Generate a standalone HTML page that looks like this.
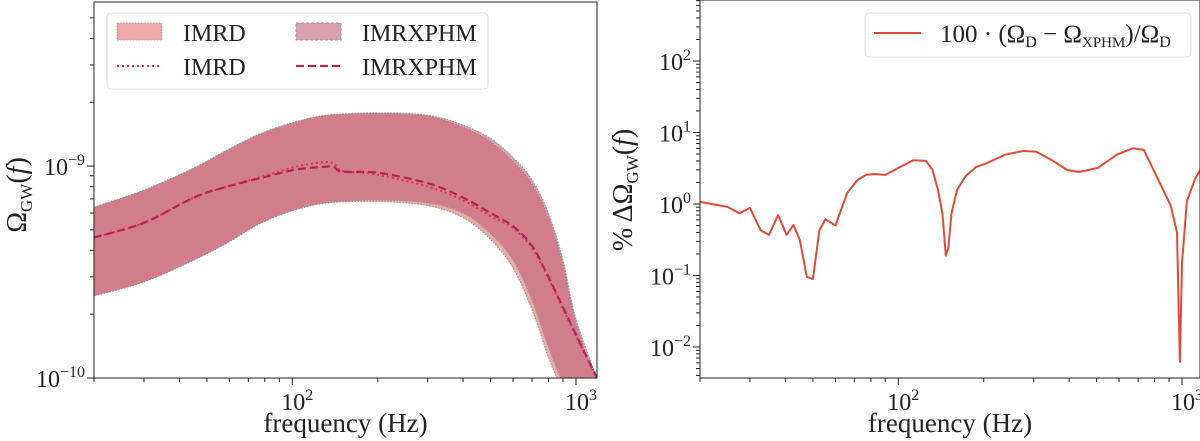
<!DOCTYPE html>
<html><head><meta charset="utf-8"><style>
html,body{margin:0;padding:0;background:#fff;}
svg{display:block;font-family:"Liberation Serif",serif;}
</style></head><body>
<svg id="c" width="1200" height="441" viewBox="0 0 1200 441"></svg>
<script>
// ---- left panel data ----
const fBand = [20,30,45,59,78,102,133,200,300,400,500,600,700,800,900,1000,1186];
const xphmUpper = [6.4e-10,7.7e-10,9.8e-10,1.19e-9,1.43e-9,1.61e-9,1.74e-9,1.78e-9,1.74e-9,1.56e-9,1.35e-9,1.10e-9,8.6e-10,6.0e-10,3.6e-10,1.9e-10,1.0e-10];
const xphmLower = [2.44e-10,2.84e-10,3.6e-10,4.34e-10,5.4e-10,6.2e-10,6.7e-10,6.9e-10,6.7e-10,6.0e-10,4.8e-10,3.6e-10,2.33e-10,1.4e-10,9.5e-11,7e-11,5e-11];
const imrdUpper = [6.4e-10,7.7e-10,9.8e-10,1.19e-9,1.43e-9,1.61e-9,1.74e-9,1.77e-9,1.72e-9,1.52e-9,1.30e-9,1.05e-9,8.2e-10,5.7e-10,3.4e-10,1.8e-10,9.5e-11];
const imrdLower = [2.44e-10,2.84e-10,3.6e-10,4.34e-10,5.4e-10,6.2e-10,6.7e-10,6.8e-10,6.5e-10,5.7e-10,4.5e-10,3.3e-10,2.1e-10,1.25e-10,8.5e-11,6e-11,4.5e-11];
const fMed = [20,30,45,59,78,102,127,140,150,200,300,400,500,600,700,800,1000,1186];
const xphmMedian = [4.6e-10,5.4e-10,7.1e-10,8.0e-10,8.8e-10,9.6e-10,9.9e-10,9.9e-10,9.4e-10,9.3e-10,8.3e-10,7.1e-10,6.0e-10,5.2e-10,4.2e-10,3.0e-10,1.6e-10,1.0e-10];
const imrdMedian = [4.6e-10,5.4e-10,7.1e-10,8.0e-10,8.9e-10,9.9e-10,1.04e-9,1.03e-9,9.5e-10,9.1e-10,8.0e-10,6.9e-10,5.8e-10,5.1e-10,4.1e-10,2.95e-10,1.58e-10,1.0e-10];
// ---- right panel data ----
const fDiff = [20,25,27.5,30,32.7,35,37.7,40.4,42.7,45,47.6,50,52.7,55.4,60,66,71.7,77,82,90,100,113,125,132,138,143,147,150,154,161,172,188,204,238,275,306,348,393,433,505,590,670,733,835,912,960,983,1000,1040,1110,1160];
const pctDiff = [1.07,0.91,0.74,0.88,0.43,0.37,0.70,0.37,0.51,0.31,0.095,0.089,0.43,0.61,0.50,1.42,2.16,2.55,2.63,2.55,3.2,4.1,4.0,3.0,1.57,0.74,0.19,0.24,0.74,1.57,2.4,3.3,3.7,4.9,5.5,5.4,4.1,3.0,2.8,3.2,4.9,6.0,5.7,1.97,0.95,0.40,0.0062,0.15,1.1,2.2,3.0];
const leftYTicks = ["10^-10","10^-9"];
const rightYTicks = ["10^-2","10^-1","10^0","10^1","10^2"];
const xTicks = ["10^2","10^3"];

const NS="http://www.w3.org/2000/svg";
const svg=document.getElementById('c');
function mk(tag,attrs,parent){const e=document.createElementNS(NS,tag);for(const k in attrs)e.setAttribute(k,attrs[k]);(parent||svg).appendChild(e);return e;}
function lg(v){return Math.log10(v);}
const L={x0:94,x1:597,y0:2,y1:378,fx0:20,fx1:1186,ly0:-10,ly1:-8.226};
const R={x0:700,x1:1200,y0:0,y1:378,fx0:20,fx1:1157,ly0:-2.434,ly1:2.853};
function sx(A,f){return A.x0+(lg(f)-lg(A.fx0))/(lg(A.fx1)-lg(A.fx0))*(A.x1-A.x0);}
function sy(A,v){return A.y1-(lg(v)-A.ly0)/(A.ly1-A.ly0)*(A.y1-A.y0);}
function xy(A,fs,vs){return fs.map((f,i)=>[sx(A,f),sy(A,vs[i])]);}
function pts(A,fs,vs){return xy(A,fs,vs).map(p=>p[0].toFixed(1)+','+p[1].toFixed(1));}
function smooth(p,start){
  let d=(start?'M':'L')+p[0][0].toFixed(1)+','+p[0][1].toFixed(1);
  for(let i=0;i<p.length-1;i++){const p0=p[Math.max(0,i-1)],p1=p[i],p2=p[i+1],p3=p[Math.min(p.length-1,i+2)];
    const c1=[p1[0]+(p2[0]-p0[0])/6,p1[1]+(p2[1]-p0[1])/6],c2=[p2[0]-(p3[0]-p1[0])/6,p2[1]-(p3[1]-p1[1])/6];
    d+='C'+c1[0].toFixed(1)+','+c1[1].toFixed(1)+' '+c2[0].toFixed(1)+','+c2[1].toFixed(1)+' '+p2[0].toFixed(1)+','+p2[1].toFixed(1);}
  return d;
}
function sup(t,x,y,anchor,name){
  const p=t.split('^');
  const e=mk('text',{x:x,y:y,'font-size':24,'text-anchor':anchor,fill:'#222'});
  
  const a=document.createElementNS(NS,'tspan');a.textContent=p[0];e.appendChild(a);
  const b=document.createElementNS(NS,'tspan');b.setAttribute('dy','-10');b.setAttribute('font-size','16');b.textContent=p[1].replace('-','\u2212');e.appendChild(b);
  return e;
}
const defs=mk('defs',{});
const cl=mk('clipPath',{id:'clipL'},defs);mk('rect',{x:L.x0,y:L.y0,width:L.x1-L.x0,height:L.y1-L.y0},cl);
const cr=mk('clipPath',{id:'clipR'},defs);mk('rect',{x:R.x0,y:R.y0,width:R.x1-R.x0,height:R.y1-R.y0},cr);

const gL=mk('g',{'clip-path':'url(#clipL)'});

function band(up,lo,fill,op,name){
  const d=smooth(xy(L,fBand,up),true)+smooth(xy(L,fBand,lo).reverse(),false)+'Z';
  const e=mk('path',{d:d,fill:fill,'fill-opacity':op,stroke:'#8a9a9a','stroke-width':1,'stroke-dasharray':'1.5,1.5'},gL);
  
}
band(imrdUpper,imrdLower,'#eba9a8',1,'imrd-band');
band(xphmUpper,xphmLower,'#c06078',0.6,'imrxphm-band');
const dm=mk('path',{d:smooth(xy(L,fMed,imrdMedian),true),fill:'none',stroke:'#e0304a','stroke-width':2,'stroke-dasharray':'2,3'},gL);

const xm=mk('path',{d:smooth(xy(L,fMed,xphmMedian),true),fill:'none',stroke:'#b0285a','stroke-width':2.2,'stroke-dasharray':'8,4'},gL);


const gR=mk('g',{'clip-path':'url(#clipR)'});

const rl=mk('polyline',{points:pts(R,fDiff,pctDiff).join(' '),fill:'none',stroke:'#e24a3b','stroke-width':2,'stroke-linejoin':'round'},gR);


function axes(A,yt,prefix){
  const fr=mk('rect',{x:A.x0,y:A.y0,width:A.x1-A.x0,height:A.y1-A.y0,fill:'none',stroke:'#222','stroke-width':1});
  
  for(let d=1;d<=3;d++){for(let m=1;m<10;m++){const f=m*Math.pow(10,d);if(f<A.fx0||f>A.fx1)continue;const x=sx(A,f);
    const t=mk('line',{x1:x,x2:x,y1:A.y1,y2:A.y1+(m==1?7:4),stroke:'#222','stroke-width':1});
    }}
  xTicks.forEach(s=>{const f=Math.pow(10,+s.split('^')[1]);sup(s,sx(A,f)+5,A.y1+32,'middle',prefix+'-x-tick-label');});
  for(let d=Math.floor(A.ly0);d<=Math.ceil(A.ly1);d++){for(let m=1;m<10;m++){const l=d+Math.log10(m);if(l<A.ly0||l>A.ly1)continue;const y=A.y1-(l-A.ly0)/(A.ly1-A.ly0)*(A.y1-A.y0);
    const t=mk('line',{x1:A.x0-(m==1?7:4),x2:A.x0,y1:y,y2:y,stroke:'#222','stroke-width':1});
    }}
  yt.forEach(s=>{const l=+s.split('^')[1];const y=A.y1-(l-A.ly0)/(A.ly1-A.ly0)*(A.y1-A.y0);sup(s,A.x0-9,y+9,'end',prefix+'-y-tick-label');});
  const xl=mk('text',{x:(A.x0+A.x1)/2,y:432,'font-size':27,'text-anchor':'middle',fill:'#222'});
  xl.textContent='frequency (Hz)';
}
axes(L,leftYTicks,'left');
axes(R,rightYTicks,'right');
const yl=mk('text',{x:0,y:0,'font-size':28,'text-anchor':'middle',fill:'#222',transform:'translate(26,195) rotate(-90)'});
yl.innerHTML='Ω<tspan font-size="17" dy="6">GW</tspan><tspan dy="-6">(</tspan><tspan font-style="italic">f</tspan><tspan>)</tspan>';

const yr=mk('text',{x:0,y:0,'font-size':28,'text-anchor':'middle',fill:'#222',transform:'translate(632,190) rotate(-90)'});
yr.innerHTML='%  ΔΩ<tspan font-size="17" dy="6">GW</tspan><tspan dy="-6">(</tspan><tspan font-style="italic">f</tspan><tspan>)</tspan>';


const lgL=mk('g',{});
mk('rect',{x:107,y:13,width:381,height:76,rx:4,fill:'#fff','fill-opacity':0.8,stroke:'#ddd'},lgL);
const p1=mk('rect',{x:117,y:23,width:45,height:17,fill:'#eba9a8',stroke:'#aaa','stroke-dasharray':'1.5,1.5'},lgL);
const p2=mk('rect',{x:296,y:23,width:45,height:17,fill:'#d9a0ae',stroke:'#8a9a9a','stroke-dasharray':'3,2'},lgL);
const p3=mk('line',{x1:117,x2:162,y1:66,y2:66,stroke:'#e0304a','stroke-width':2,'stroke-dasharray':'2,3'},lgL);
const p4=mk('line',{x1:296,x2:341,y1:66,y2:66,stroke:'#b0285a','stroke-width':2.2,'stroke-dasharray':'8,4'},lgL);
[[183,41,'IMRD'],[362,41,'IMRXPHM'],[183,75,'IMRD'],[362,75,'IMRXPHM']].forEach(a=>{const t=mk('text',{x:a[0],y:a[1],'font-size':24,fill:'#222'},lgL);t.textContent=a[2];});

const lgR=mk('g',{});
mk('rect',{x:865,y:13,width:326,height:44,rx:4,fill:'#fff','fill-opacity':0.8,stroke:'#ddd'},lgR);
const p5=mk('line',{x1:874,x2:921,y1:33,y2:33,stroke:'#e24a3b','stroke-width':2},lgR);
const t5=mk('text',{x:940,y:42,'font-size':25,fill:'#222'},lgR);
t5.innerHTML='100 · (Ω<tspan font-size="16" dy="5">D</tspan><tspan dy="-5"> − Ω</tspan><tspan font-size="15" dy="5">XPHM</tspan><tspan dy="-5">)/Ω</tspan><tspan font-size="16" dy="5">D</tspan>';

</script>
</body></html>
